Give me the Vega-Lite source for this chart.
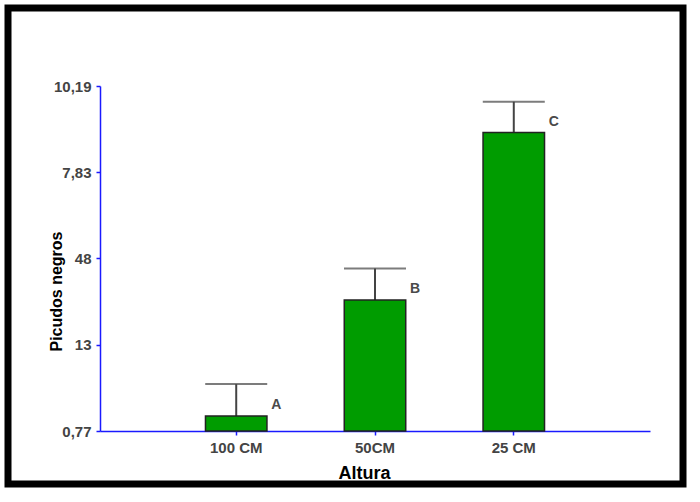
{
  "$schema": "https://vega.github.io/schema/vega-lite/v6.json",
  "autosize": "none",
  "width": 675,
  "height": 476,
  "padding": {"left": 8, "top": 8, "right": 17, "bottom": 18},
  "background": "white",
  "config": {
    "font": "Liberation Sans",
    "view": {"stroke": "#000000", "strokeWidth": 7, "fill": "white"}
  },
  "data": {
    "values": [
      {"altura": "100 CM", "media": 1.18, "superior": 2.05, "letra": "A"},
      {"altura": "50CM", "media": 4.35, "superior": 5.21, "letra": "B"},
      {"altura": "25 CM", "media": 8.92, "superior": 9.76, "letra": "C"}
    ]
  },
  "encoding": {
    "x": {
      "field": "altura",
      "type": "nominal",
      "sort": null,
      "scale": {"type": "band", "range": [92, 642], "paddingInner": 0.557, "paddingOuter": 0.76},
      "axis": {
        "title": "Altura",
        "offset": -53,
        "labelAngle": 0,
        "domainColor": "#1a1aff",
        "domainWidth": 1.5,
        "tickColor": "#1a1aff",
        "tickWidth": 1.5,
        "tickSize": 4,
        "labelPadding": 5,
        "labelFontSize": 15,
        "labelFontWeight": "bold",
        "labelColor": "#444444",
        "titleFontSize": 18,
        "titleFontWeight": "bold",
        "titleColor": "#000000",
        "titleX": 356,
        "titleY": 42,
        "titleBaseline": "middle",
        "titleAlign": "center"
      }
    }
  },
  "layer": [
    {
      "mark": {"type": "rule", "color": "#444444", "strokeWidth": 2},
      "encoding": {
        "y": {"field": "media", "type": "quantitative"},
        "y2": {"field": "superior"}
      }
    },
    {
      "mark": {"type": "tick", "color": "#444444", "thickness": 2, "size": 62},
      "encoding": {
        "y": {"field": "superior", "type": "quantitative"}
      }
    },
    {
      "mark": {"type": "bar", "fill": "#009c00", "stroke": "#222222", "strokeWidth": 1.5},
      "encoding": {
        "y": {
          "field": "media",
          "type": "quantitative",
          "scale": {"domain": [0.77, 10.19], "range": [423, 78], "zero": false, "nice": false},
          "axis": {
            "title": "Picudos negros",
            "offset": -92,
            "values": [0.77, 3.125, 5.48, 7.835, 10.19],
            "labelExpr": "datum.value < 1 ? '0,77' : datum.value < 4 ? '13' : datum.value < 6 ? '48' : datum.value < 9 ? '7,83' : '10,19'",
            "grid": false,
            "domainColor": "#1a1aff",
            "domainWidth": 1.5,
            "tickColor": "#1a1aff",
            "tickWidth": 1.5,
            "tickSize": 4,
            "labelPadding": 5,
            "labelFontSize": 15,
            "labelFontWeight": "bold",
            "labelColor": "#444444",
            "titleFontSize": 16,
            "titleFontWeight": "bold",
            "titleColor": "#000000",
            "titleAngle": -90,
            "titleX": -36,
            "titleY": 283,
            "titleAlign": "center",
            "titleBaseline": "bottom"
          }
        },
        "y2": {"datum": 0.77}
      }
    },
    {
      "mark": {"type": "text", "dx": 40, "dy": -11, "fontSize": 14, "fontWeight": "bold", "color": "#4a4a4a", "align": "center", "baseline": "middle"},
      "encoding": {
        "y": {"field": "media", "type": "quantitative"},
        "text": {"field": "letra"}
      }
    }
  ]
}
